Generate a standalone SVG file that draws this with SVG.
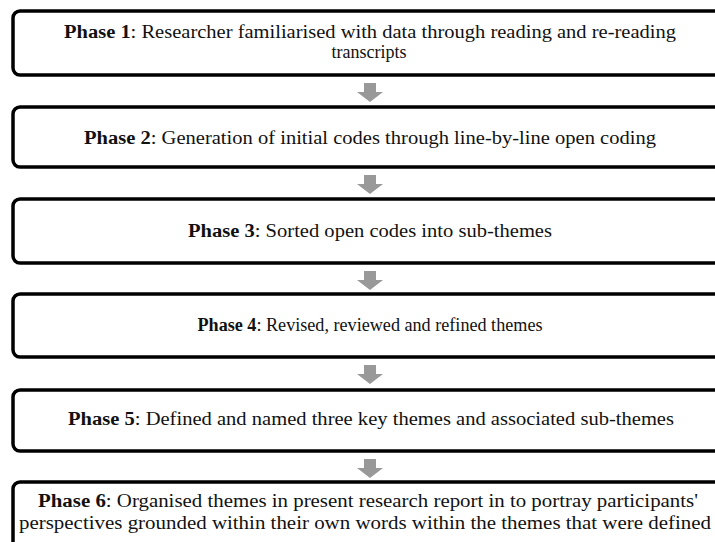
<svg xmlns="http://www.w3.org/2000/svg" width="715" height="542" viewBox="0 0 715 542">
<defs>
<style>
.box{fill:#fff;stroke:#000;stroke-width:3.5}
.t{font-family:'Liberation Serif','DejaVu Serif','Times New Roman',serif;font-size:18px;fill:#111;text-anchor:middle}
.b{font-weight:bold}
.arr{fill:#999}
</style>
<path id="arrow" class="arr" d="M-6,0 H6 V9 H13 L0,19 L-13,9 H-6 Z"/>
</defs>
<rect width="715" height="542" fill="#fff"/>
<g id="connectors">
<use href="#arrow" x="370" y="83"/>
<use href="#arrow" x="370" y="175"/>
<use href="#arrow" x="370" y="271"/>
<use href="#arrow" x="370" y="365"/>
<use href="#arrow" x="370" y="459"/>
</g>
<g font-family="Liberation Serif, DejaVu Serif, serif">
<g id="phase1">
<rect class="box" x="13" y="11" width="720" height="64" rx="7"/>
<text class="t" x="370" y="38" textLength="612" lengthAdjust="spacingAndGlyphs"><tspan class="b">Phase 1</tspan>: Researcher familiarised  with data through reading and re-reading</text>
<text class="t" x="369" y="58">transcripts</text>
</g>
<g id="phase2">
<rect class="box" x="13" y="107" width="720" height="60" rx="7"/>
<text class="t" x="370" y="144" textLength="572" lengthAdjust="spacingAndGlyphs"><tspan class="b">Phase 2</tspan>: Generation of initial codes through line-by-line  open coding</text>
</g>
<g id="phase3">
<rect class="box" x="13" y="199" width="720" height="64" rx="7"/>
<text class="t" x="370" y="237" textLength="364" lengthAdjust="spacingAndGlyphs"><tspan class="b">Phase 3</tspan>: Sorted open codes into sub-themes</text>
</g>
<g id="phase4">
<rect class="box" x="13" y="294" width="720" height="63" rx="7"/>
<text class="t" x="370" y="331" textLength="345" lengthAdjust="spacingAndGlyphs"><tspan class="b">Phase 4</tspan>: Revised, reviewed and refined themes</text>
</g>
<g id="phase5">
<rect class="box" x="13" y="390" width="720" height="61" rx="7"/>
<text class="t" x="371" y="425" textLength="606" lengthAdjust="spacingAndGlyphs"><tspan class="b">Phase 5</tspan>: Defined and named three key themes and associated sub-themes</text>
</g>
<g id="phase6">
<rect class="box" x="13" y="482" width="720" height="80" rx="7"/>
<text class="t" x="368" y="507" textLength="660" lengthAdjust="spacingAndGlyphs"><tspan class="b">Phase 6</tspan>: Organised themes in present research report in to portray participants'</text>
<text class="t" x="365" y="529" textLength="692" lengthAdjust="spacingAndGlyphs">perspectives grounded within their own words within the themes that were defined</text>
</g>
</g>
</svg>
